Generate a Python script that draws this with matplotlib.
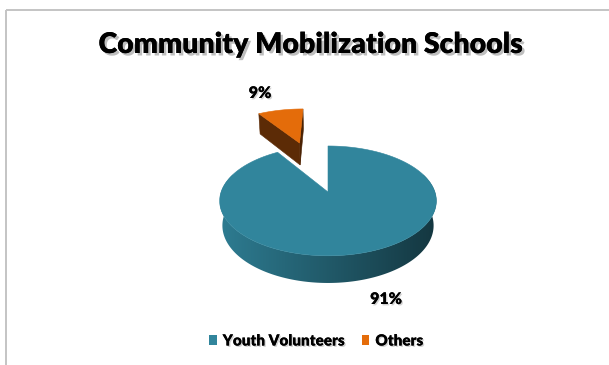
import numpy as np
import matplotlib
matplotlib.use("Agg")
import matplotlib.pyplot as plt
from matplotlib.patches import Polygon, Patch
import matplotlib.patheffects as pe

# ---- data ----
categories = ["Youth Volunteers", "Others"]
shares = [91, 9]
title_text = "Community Mobilization Schools"

# ---- style ----
top_colors = ["#31859C", "#E46C0A"]
cut_colors = ["#1F5A6A", "#5C2B06"]
explode = [0.0, 1.12]
label_pos = [(386, 299), (260, 93)]          # pixel positions of the % labels
FONT = ["Lato", "DejaVu Sans"]

W, H = 609, 365
CX, CY = 328, 192          # screen position of the pie centre
FOCAL, DIST = 572.0, 5.35  # perspective camera
ELEV = np.radians(30)
THICK = 0.271              # pie thickness in radius units

S, C = np.sin(ELEV), np.cos(ELEV)
CAM = np.array([0.0, -DIST * C, DIST * S])


def project(x, y, z):
    x, y, z = np.asarray(x, float), np.asarray(y, float), np.asarray(z, float)
    up = y * S + z * C
    depth = DIST + y * C - z * S
    return CX + FOCAL * x / depth, CY - FOCAL * up / depth


def pts(xs, ys):
    return np.column_stack([xs, ys])


fig = plt.figure(figsize=(W / 100, H / 100), dpi=100)
ax = fig.add_axes([0, 0, 1, 1])
ax.set_xlim(0, W)
ax.set_ylim(H, 0)
ax.axis("off")

# chart-area border
ax.plot([6, W], [10, 10], color="#C4C4C4", lw=1.4, solid_capstyle="butt", zorder=1)
ax.plot([6, 6], [10, H], color="#C4C4C4", lw=1.4, solid_capstyle="butt", zorder=1)

# slice angles: start at 12 o'clock, go clockwise
fr = np.array(shares, float) / np.sum(shares)
ends = 90 - 360 * np.concatenate([[0], np.cumsum(fr)])
slices = []
for i in range(len(shares)):
    t2, t1 = ends[i], ends[i + 1]          # counter-clockwise range [t1, t2]
    mid = np.radians((t1 + t2) / 2)
    off = explode[i] * np.array([np.cos(mid), np.sin(mid)])
    slices.append((i, t1, t2, off))

# draw back-most slices first
order = sorted(slices, key=lambda s: -s[3][1])
z = 2
for i, t1, t2, off in order:
    ox, oy = off
    top = top_colors[i]
    # cut faces
    for a, nd in ((t1, t1 - 90), (t2, t2 + 90)):
        n = np.array([np.cos(np.radians(nd)), np.sin(np.radians(nd)), 0])
        if np.dot(n, CAM - np.array([ox, oy, 0])) <= 1e-6:
            continue
        ex, ey = ox + np.cos(np.radians(a)), oy + np.sin(np.radians(a))
        xs = [ox, ex, ex, ox]
        ys = [oy, ey, ey, oy]
        zs = [0, 0, -THICK, -THICK]
        px, py = project(xs, ys, zs)
        shade = cut_colors[i] if a == t2 else "#4A2204"
        ax.add_patch(Polygon(pts(px, py), closed=True, fc=shade, ec=shade,
                             lw=0.4, zorder=z))
    z += 1
    # outer wall (front part only)
    lo, hi = max(t1, -200), min(t2, 20)
    if hi > lo:
        tt = np.radians(np.linspace(lo, hi, 200))
        xs = ox + np.cos(tt)
        ys = oy + np.sin(tt)
        tx, ty = project(xs, ys, np.zeros_like(xs))
        bx, by = project(xs, ys, np.full_like(xs, -THICK))
        wall = np.vstack([pts(tx, ty), pts(bx, by)[::-1]])
        poly = Polygon(wall, closed=True, fc="none", ec="none", zorder=z)
        ax.add_patch(poly)
        base = np.array(matplotlib.colors.to_rgb(top))
        x0, x1 = wall[:, 0].min(), wall[:, 0].max()
        gx = np.linspace(0, 1, 256)
        fac = 0.93 - 0.52 * gx
        grad = np.clip(base[None, :] * fac[:, None], 0, 1)[None, :, :]
        im = ax.imshow(grad, extent=(x0, x1, wall[:, 1].max(), wall[:, 1].min()),
                       aspect="auto", interpolation="bilinear", zorder=z)
        im.set_clip_path(poly)
        ax.set_xlim(0, W)
        ax.set_ylim(H, 0)
    z += 1
    # top face
    tt = np.radians(np.linspace(t1, t2, 300))
    xs = np.concatenate([[ox], ox + np.cos(tt)])
    ys = np.concatenate([[oy], oy + np.sin(tt)])
    px, py = project(xs, ys, np.zeros_like(xs))
    ax.add_patch(Polygon(pts(px, py), closed=True, fc=top, ec=top, lw=0.4, zorder=z))
    z += 1

shadow = [pe.withSimplePatchShadow(offset=(1.0, -1.0), shadow_rgbFace="#909090", alpha=0.4),
          pe.Normal()]

# percentage labels
for i, v in enumerate(shares):
    x, y = label_pos[i]
    ax.text(x, y, f"{v}%", ha="center", va="center", fontsize=11.5,
            fontweight="heavy", family=FONT, color="black", zorder=20,
            path_effects=shadow)

# title
ax.text(311, 53, title_text, ha="center", va="baseline", fontsize=20.5,
        fontweight="heavy", family=FONT, color="black", zorder=20,
        path_effects=[pe.withSimplePatchShadow(offset=(1.8, -1.8), shadow_rgbFace="#707070", alpha=0.45),
                      pe.Normal()])

# legend
handles = [Patch(fc=c, ec="none", label=lab) for c, lab in zip(top_colors, categories)]
leg = fig.legend(handles=handles, loc="center", bbox_to_anchor=(316 / W, 1 - 341 / H),
                 ncol=2, frameon=False, handlelength=0.5, handleheight=0.65,
                 handletextpad=0.4, columnspacing=1.1, borderpad=0,
                 prop={"family": FONT, "weight": "heavy", "size": 11})
for t in leg.get_texts():
    t.set_path_effects(shadow)

fig.savefig("out.png", dpi=100)
